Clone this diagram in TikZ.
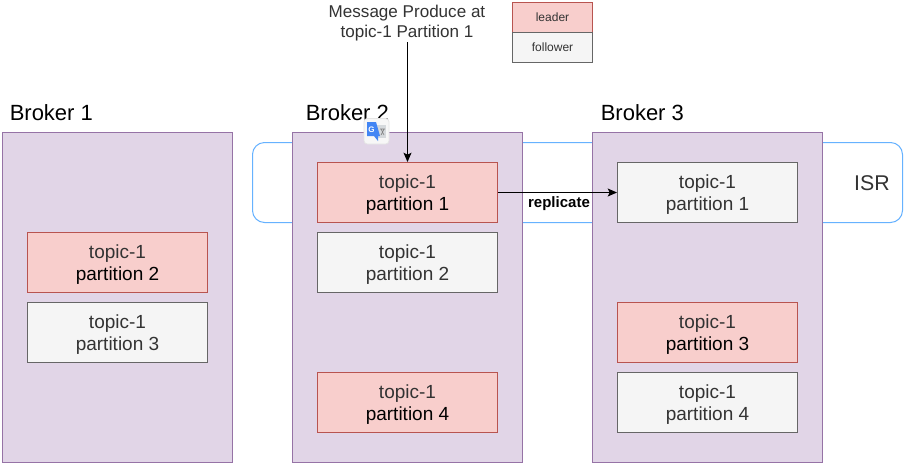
\documentclass[tikz,border=0pt]{standalone}
\usepackage{fontspec}
\setmainfont{Liberation Sans}
\usetikzlibrary{arrows.meta}
\definecolor{brokerfill}{HTML}{E1D5E7}
\definecolor{brokerline}{HTML}{9673A6}
\definecolor{leaderfill}{HTML}{F8CECC}
\definecolor{leaderline}{HTML}{B85450}
\definecolor{followfill}{HTML}{F5F5F5}
\definecolor{followline}{HTML}{666666}
\definecolor{isrline}{HTML}{66B2FF}
\definecolor{softtext}{HTML}{333333}
\definecolor{iconblue}{HTML}{4285F4}
\definecolor{icongrey}{HTML}{D5D9DC}
\newcommand{\partfont}{\fontsize{14.25}{16.5}\selectfont}
\newcommand{\partstrut}{\rule{0pt}{13pt}}
\newcommand{\leadertext}[2]{\partstrut{\color{softtext}topic-#1}\\{\color{black}partition #2}}
\newcommand{\followtext}[2]{\partstrut topic-#1\\partition #2}
\tikzset{
  broker/.style={draw=brokerline, fill=brokerfill, line width=0.75pt, minimum width=172.5pt, minimum height=247.5pt, inner sep=0pt},
  part/.style={line width=0.75pt, minimum width=135pt, minimum height=45pt, inner sep=0pt, align=center, font=\partfont},
  leader/.style={part, draw=leaderline, fill=leaderfill},
  follower/.style={part, draw=followline, fill=followfill, text=softtext},
  title/.style={anchor=west, inner sep=0pt, font=\fontsize{16.5}{18}\selectfont},
  keybox/.style={line width=0.75pt, minimum width=60pt, minimum height=22.5pt, inner sep=0pt, font=\fontsize{9}{11}\selectfont, text=softtext},
  flow/.style={-{Stealth[length=7pt,width=6pt,inset=1.5pt]}, line width=0.75pt}
}
\begin{document}
\begin{tikzpicture}[x=0.75pt,y=-0.75pt]
\useasboundingbox (0,0) rectangle (904,465);
\fill [white] (0,0) rectangle (904,465);
% in sync replicas
\node [draw=isrline, line width=0.75pt, rounded corners=9pt, minimum width=487.5pt, minimum height=60pt, inner sep=0pt] (isr) at (577.5,182.5) {};
\node [font=\fontsize{16}{18}\selectfont, text=softtext] (isrlabel) at (872,183) {ISR};
% brokers
\node [broker] (broker1) at (117.5,297.5) {};
\node [broker] (broker2) at (407.5,297.5) {};
\node [broker] (broker3) at (707.5,297.5) {};
\node [title] (title1) at (9.5,112.5) {Broker 1};
\node [title] (title2) at (305.5,112.5) {Broker 2};
\node [title] (title3) at (600.5,112.5) {Broker 3};
% partitions
\node [leader] (p12) at (117.5,262.5) {\leadertext{1}{2}};
\node [follower] (p13) at (117.5,332.5) {\followtext{1}{3}};
\node [leader] (p21) at (407.5,192.5) {\leadertext{1}{1}};
\node [follower] (p22) at (407.5,262.5) {\followtext{1}{2}};
\node [leader] (p24) at (407.5,402.5) {\leadertext{1}{4}};
\node [follower] (p31) at (707.5,192.5) {\followtext{1}{1}};
\node [leader] (p33) at (707.5,332.5) {\leadertext{1}{3}};
\node [follower] (p34) at (707.5,402.5) {\followtext{1}{4}};
% legend
\node [keybox, draw=leaderline, fill=leaderfill] (keyleader) at (552.5,17.5) {leader};
\node [keybox, draw=followline, fill=followfill] (keyfollower) at (552.5,47.5) {follower};
% message
\node [align=center, inner sep=0pt, text=softtext, font=\fontsize{12.8}{15}\selectfont] (msg) at (407,23.5) {Message Produce at\\topic-1 Partition 1};
\coordinate (msgend) at (407.5,42);
\draw [flow] (msgend) -- (p21.north);
\draw [flow] (p21.east) -- (p31.west);
\node [font=\bfseries\fontsize{11.25}{12}\selectfont] (replabel) at (559,203.5) {replicate};
% translate icon
\draw [draw=black!10, fill=white!97!black, rounded corners=2.5pt, line width=0.6pt] (364,118.5) rectangle (389,144);
\fill [icongrey] (377,125) -- (386,125) -- (386,138) -- (377,138) -- cycle;
\fill [iconblue] (367,122) -- (376,122) -- (380,136) -- (378,136) -- (378,141) -- (374,136) -- (367,136) -- cycle;
\node [text=white, inner sep=0pt, font=\bfseries\fontsize{6}{7}\selectfont] (iconletter) at (371.5,129.5) {G};
\draw [black!50, line width=0.5pt] (380,129) -- (385,129) (381,129) -- (384,135) (384,129) -- (381,135);
\end{tikzpicture}
\end{document}
